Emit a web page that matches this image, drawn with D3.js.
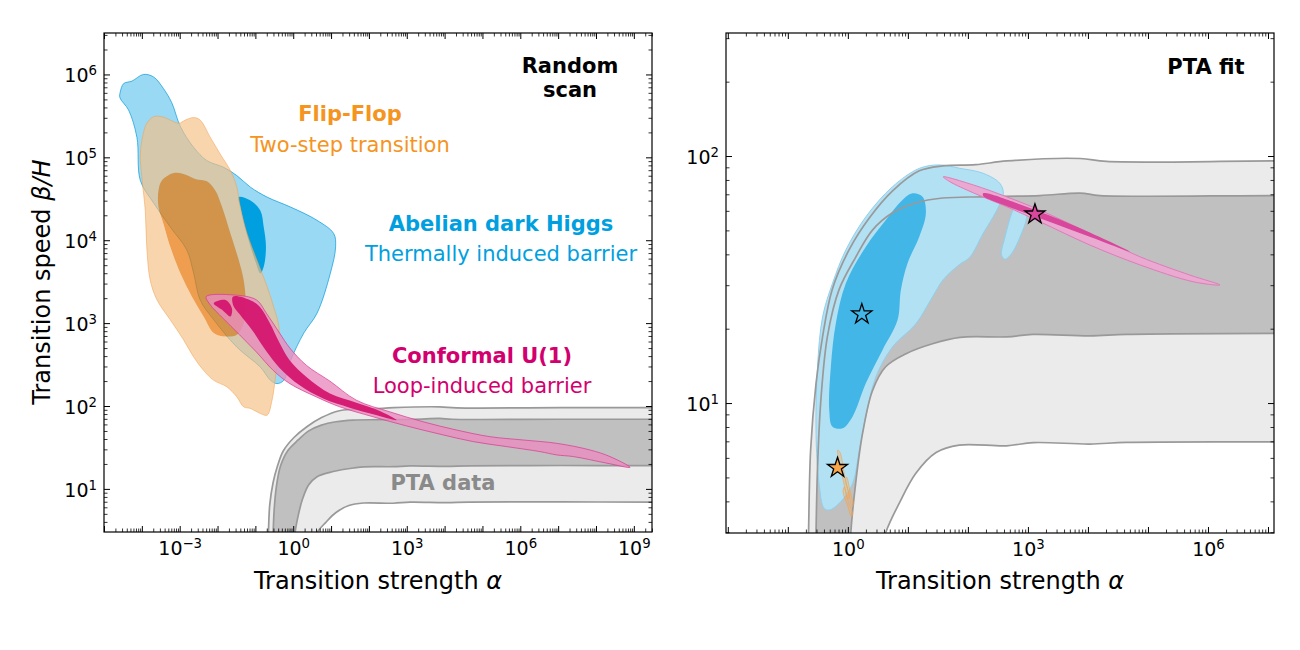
<!DOCTYPE html>
<html>
<head>
<meta charset="utf-8">
<script src="https://cdn.jsdelivr.net/npm/d3@7"></script>
<style>
  body { margin: 0; background: #fff; }
  svg { font-family: "DejaVu Sans", sans-serif; }
</style>
</head>
<body>
<svg id="chart" width="1300" height="650"></svg>
<script>
// all contour points are [log10(alpha), log10(beta/H)]

// random scan (left panel)
const abelianScan95 = [[-4.57,5.79],[-4.48,5.89],[-4.26,5.92],[-3.96,6.00],[-3.69,5.97],[-3.43,5.83],[-3.21,5.66],[-2.98,5.37],[-2.63,5.12],[-2.28,4.96],[-1.84,4.88],[-1.49,4.78],[-1.13,4.64],[-0.69,4.52],[-0.07,4.40],[0.63,4.24],[1.07,4.08],[1.12,3.92],[0.98,3.60],[0.63,3.12],[0.28,2.88],[-0.07,2.55],[-0.25,2.31],[-0.43,2.27],[-0.60,2.31],[-0.87,2.47],[-1.49,2.71],[-2.10,3.04],[-2.46,3.28],[-2.63,3.60],[-2.81,3.88],[-3.25,4.16],[-3.69,4.45],[-4.04,4.72],[-4.13,5.24],[-4.35,5.57],[-4.58,5.72]];
const abelianScan68 = [[-1.44,4.52],[-1.13,4.48],[-0.87,4.36],[-0.78,4.16],[-0.72,3.92],[-0.78,3.68],[-0.87,3.60],[-0.99,3.73],[-1.23,4.08],[-1.40,4.41]];
const flipFlopScan95 = [[-3.87,5.41],[-3.69,5.49],[-3.47,5.49],[-3.25,5.45],[-3.03,5.41],[-2.85,5.45],[-2.63,5.48],[-2.46,5.45],[-2.19,5.24],[-1.93,5.04],[-1.66,4.84],[-1.49,4.64],[-1.40,4.40],[-1.22,4.08],[-0.96,3.76],[-0.69,3.44],[-0.52,3.20],[-0.38,2.96],[-0.38,2.71],[-0.47,2.35],[-0.56,2.07],[-0.69,1.89],[-0.87,1.91],[-1.13,1.97],[-1.31,1.99],[-1.49,2.11],[-1.75,2.23],[-2.10,2.31],[-2.37,2.43],[-2.63,2.59],[-2.90,2.80],[-3.25,3.04],[-3.60,3.28],[-3.78,3.52],[-3.87,3.92],[-3.91,4.36],[-4.00,4.76],[-4.04,5.04],[-3.96,5.29]];
const flipFlopScan68 = [[-3.56,4.60],[-3.47,4.72],[-3.16,4.81],[-2.90,4.80],[-2.59,4.74],[-2.28,4.71],[-2.06,4.60],[-1.88,4.40],[-1.66,4.08],[-1.44,3.76],[-1.31,3.52],[-1.26,3.28],[-1.31,3.00],[-1.49,2.86],[-1.84,2.84],[-2.10,2.88],[-2.37,3.08],[-2.68,3.32],[-2.98,3.60],[-3.25,3.92],[-3.43,4.20],[-3.56,4.40]];
const conformalScan95 = [[-2.30,3.32],[-1.59,3.34],[-0.97,3.28],[-0.71,3.12],[-0.36,2.88],[-0.09,2.70],[0.35,2.49],[0.97,2.30],[1.67,2.07],[2.55,1.93],[3.43,1.81],[4.32,1.71],[5.20,1.63],[6.08,1.59],[6.96,1.55],[7.84,1.47],[8.37,1.39],[8.90,1.26],[8.29,1.31],[7.40,1.39],[6.96,1.41],[6.52,1.45],[5.64,1.51],[4.76,1.57],[3.88,1.66],[2.99,1.76],[2.11,1.87],[1.23,1.99],[0.61,2.11],[-0.09,2.27],[-0.53,2.43],[-0.97,2.65],[-1.42,2.86],[-1.86,3.06],[-2.21,3.23]];
const conformalScan68 = [[-1.59,3.32],[-1.15,3.28],[-0.89,3.20],[-0.62,3.00],[-0.36,2.76],[-0.09,2.55],[0.35,2.35],[0.97,2.15],[1.67,2.04],[2.29,1.94],[2.73,1.83],[2.11,1.90],[1.49,1.98],[0.79,2.09],[0.17,2.25],[-0.36,2.46],[-0.71,2.66],[-1.06,2.90],[-1.42,3.11],[-1.59,3.22]];
const conformalScanIsland = [[-2.10,3.24],[-1.79,3.28],[-1.62,3.18],[-1.66,3.08],[-1.88,3.16]];

// PTA data contours (shared by both panels)
const ptaOuterTop = [[-0.67,0.30],[-0.655,0.475],[-0.62,0.81],[-0.53,1.08],[-0.42,1.27],[-0.26,1.46],[0.02,1.62],[0.36,1.75],[0.75,1.86],[1.19,1.94],[1.58,1.96],[2.13,1.965],[2.65,1.98],[3.87,1.99],[4.31,1.978],[7.08,1.98],[9.6,1.98]];
const ptaDarkTop = [[-0.54,0.30],[-0.53,0.475],[-0.505,0.74],[-0.45,1.01],[-0.34,1.27],[-0.145,1.46],[0.13,1.59],[0.41,1.70],[0.745,1.77],[1.13,1.81],[1.58,1.83],[2.25,1.835],[3.2,1.84],[3.87,1.85],[4.2,1.84],[7.08,1.84],[9.6,1.84]];
const ptaDarkBottom = [[0.03,0.30],[0.05,0.475],[0.13,0.675],[0.245,0.877],[0.41,1.05],[0.63,1.147],[0.97,1.20],[1.41,1.24],[1.87,1.266],[2.65,1.268],[3.08,1.278],[4.03,1.272],[4.65,1.278],[7.08,1.282],[9.6,1.28]];
const ptaLightBottom = [[0.45,0.30],[0.63,0.475],[0.855,0.594],[1.13,0.715],[1.47,0.80],[1.855,0.83],[2.645,0.827],[3.09,0.84],[4.03,0.834],[4.645,0.841],[7.08,0.843],[9.6,0.84]];

// PTA fit (right panel)
const abelianFit95 = [[-0.395,0.574],[-0.48,0.675],[-0.53,0.877],[-0.505,1.147],[-0.42,1.35],[-0.255,1.485],[-0.033,1.62],[0.30,1.754],[0.745,1.876],[1.19,1.95],[1.52,1.964],[1.87,1.95],[2.255,1.93],[2.53,1.89],[2.59,1.85],[2.48,1.78],[2.255,1.687],[2.03,1.59],[1.855,1.56],[1.59,1.50],[1.41,1.43],[1.13,1.32],[0.745,1.228],[0.467,1.106],[0.30,0.945],[0.19,0.81],[0.08,0.675],[-0.145,0.594],[-0.31,0.567]];
const abelianFitIsland = [[2.81,1.81],[2.95,1.795],[2.98,1.754],[2.87,1.673],[2.73,1.606],[2.62,1.582],[2.56,1.60],[2.62,1.673],[2.73,1.768]];
const abelianFit68 = [[1.078,1.849],[1.245,1.835],[1.30,1.768],[1.19,1.673],[0.995,1.566],[0.883,1.457],[0.828,1.336],[0.578,1.215],[0.30,1.08],[0.078,0.945],[-0.088,0.898],[-0.255,0.904],[-0.31,0.972],[-0.283,1.147],[-0.20,1.323],[-0.033,1.485],[0.30,1.633],[0.633,1.741],[0.91,1.822]];
const conformalFit95 = [[1.59,1.916],[2.09,1.883],[2.645,1.835],[3.2,1.781],[4.03,1.687],[4.87,1.592],[5.70,1.518],[6.2,1.478],[5.755,1.491],[4.87,1.559],[4.03,1.64],[3.2,1.734],[2.645,1.795],[2.09,1.851],[1.70,1.896]];
const conformalFit68 = [[2.255,1.849],[2.92,1.80],[3.755,1.72],[4.70,1.613],[4.03,1.673],[3.2,1.748],[2.53,1.808],[2.255,1.838]];
const flipFlopFitA = [[-0.17,0.81],[-0.13,0.80],[-0.05,0.70],[0.02,0.62],[0.0,0.61],[-0.08,0.69],[-0.15,0.77]];
const flipFlopFitB = [[-0.06,0.66],[0.01,0.60],[0.08,0.55],[0.06,0.54],[-0.01,0.59],[-0.08,0.64]];
const flipFlopFitC = [[-0.02,0.70],[0.04,0.64],[0.09,0.59],[0.07,0.58],[0.02,0.63],[-0.04,0.69]];

// best fit points (alpha, beta/H)
const bestFitModels = ['abelian', 'flipflop', 'conformal'];
const bestFitAlpha = [1.71, 0.673, 1309];
const bestFitBeta = [22.9, 5.47, 58.1];

// axis ticks (decade exponents)
const leftXDecades = [-5,-4,-3,-2,-1,0,1,2,3,4,5,6,7,8,9];
const leftXLabels = [-3,0,3,6,9];
const leftYDecades = [1,2,3,4,5,6];
const rightXDecades = [-2,-1,0,1,2,3,4,5,6,7];
const rightXLabels = [0,3,6];
const rightYDecades = [1,2];

const svg = d3.select('#chart');
const closedLine = d3.line().curve(d3.curveCatmullRomClosed.alpha(0.5));
const openLine = d3.line().curve(d3.curveCatmullRom.alpha(0.5));

function makePanel(id, box, xDomain, yDomain) {
	const x = d3.scaleLog().domain(xDomain).range([box.l, box.r]);
	const y = d3.scaleLog().domain(yDomain).range([box.b, box.t]);
	svg.append('clipPath').attr('id', 'clip-' + id)
		.append('rect')
		.attr('x', box.l).attr('y', box.t)
		.attr('width', box.r - box.l).attr('height', box.b - box.t);
	const g = svg.append('g').attr('class', 'panel-' + id);
	const plot = g.append('g').attr('clip-path', `url(#clip-${id})`);
	const pt = p => [x(Math.pow(10, p[0])), y(Math.pow(10, p[1]))];
	return { x, y, g, plot, pt, box };
}

function blob(P, data, fill, opacity, stroke, sw) {
	return P.plot.append('path')
		.attr('d', closedLine(data.map(P.pt)))
		.attr('fill', fill)
		.attr('fill-opacity', opacity)
		.attr('stroke', stroke || 'none')
		.attr('stroke-width', sw || 1);
}

// outer contour with the inner one cut out (like contourf levels)
function ring(P, outer, inner, fill, opacity) {
	return P.plot.append('path')
		.attr('d', closedLine(outer.map(P.pt)) + closedLine(inner.map(P.pt)))
		.attr('fill-rule', 'evenodd')
		.attr('fill', fill)
		.attr('fill-opacity', opacity);
}

function band(P, top, bottom, fill) {
	const d = openLine(top.map(P.pt)) + openLine(bottom.slice().reverse().map(P.pt)).replace(/^M/, 'L') + 'Z';
	P.plot.append('path').attr('d', d).attr('fill', fill);
}

function ptaBands(P) {
	band(P, ptaOuterTop, ptaLightBottom, '#ebebeb');
	band(P, ptaDarkTop, ptaDarkBottom, '#c0c0c0');
}

function ptaLines(P) {
	[ptaOuterTop, ptaDarkTop, ptaDarkBottom, ptaLightBottom].forEach(c => {
		P.plot.append('path')
			.attr('d', openLine(c.map(P.pt)))
			.attr('fill', 'none')
			.attr('stroke', '#999')
			.attr('stroke-width', 1.7);
	});
}

function supLabel(sel, e) {
	sel.text('10');
	sel.append('tspan')
		.attr('dy', -7)
		.attr('font-size', '13.3px')
		.text(e < 0 ? '\u2212' + (-e) : String(e));
}

function drawAxes(P, xDec, xLab, yDec, yLab) {
	const { x, y, g, box } = P;
	const minors = (dec, dom) => {
		const out = [];
		for (let k = dec[0] - 1; k <= dec[dec.length - 1]; k++) {
			for (let m = 2; m < 10; m++) {
				const v = m * Math.pow(10, k);
				if (v > dom[0] * 1.001 && v < dom[1] / 1.001) out.push(v);
			}
		}
		return out;
	};
	const xMaj = xDec.map(k => Math.pow(10, k)), yMaj = yDec.map(k => Math.pow(10, k));
	const xMin = minors(xDec, x.domain()), yMin = minors(yDec, y.domain());
	const make = { bottom: d3.axisBottom, top: d3.axisTop, left: d3.axisLeft, right: d3.axisRight };
	const sides = [
		['bottom', x, `translate(0,${box.b})`, xMaj, xMin, xLab],
		['top', x, `translate(0,${box.t})`, xMaj, xMin, null],
		['left', y, `translate(${box.l},0)`, yMaj, yMin, yLab],
		['right', y, `translate(${box.r},0)`, yMaj, yMin, null]
	];
	sides.forEach(([side, scale, tr, maj, min, labels]) => {
		const minorAxis = make[side](scale).tickValues(min).tickSize(-3.5).tickSizeOuter(0).tickFormat('');
		const gm = g.append('g').attr('transform', tr).call(minorAxis);
		gm.select('.domain').remove();
		gm.selectAll('line').attr('stroke', '#000').attr('stroke-width', 0.8);

		const majorAxis = make[side](scale).tickValues(maj).tickSize(-6).tickSizeOuter(0).tickPadding(7);
		const ga = g.append('g').attr('transform', tr).call(majorAxis)
			.attr('font-family', null).attr('font-size', null);
		ga.select('.domain').remove();
		ga.selectAll('line').attr('stroke', '#000').attr('stroke-width', 1);
		ga.selectAll('text').each(function(d) {
			const t = d3.select(this);
			const e = Math.round(Math.log10(d));
			if (!labels || labels.indexOf(e) < 0) { t.remove(); return; }
			t.attr('font-size', '19px').attr('fill', '#000');
			if (side === 'bottom') t.attr('dy', null).attr('y', 23);
			if (side === 'left') t.attr('dy', null).attr('y', 7.5).attr('x', -7);
			supLabel(t, e);
		});
	});
	g.append('rect')
		.attr('x', box.l).attr('y', box.t)
		.attr('width', box.r - box.l).attr('height', box.b - box.t)
		.attr('fill', 'none').attr('stroke', '#000').attr('stroke-width', 1.2);
}

function label(P, txt, x, y, color, bold) {
	P.g.append('text')
		.attr('x', x).attr('y', y)
		.attr('text-anchor', 'middle')
		.attr('font-size', '21px')
		.attr('font-weight', bold ? 'bold' : 'normal')
		.attr('fill', color)
		.text(txt);
}

function xTitle(P) {
	const t = P.g.append('text')
		.attr('x', (P.box.l + P.box.r) / 2).attr('y', 589)
		.attr('text-anchor', 'middle').attr('font-size', '24px')
		.text('Transition strength ');
	t.append('tspan').attr('font-style', 'italic').text('\u03b1');
}

// ---------------- left: random scan ----------------
const L = makePanel('scan', { l: 104, r: 652, t: 33, b: 532 }, [1e-5, Math.pow(10, 9.48)], [Math.pow(10, 0.48), Math.pow(10, 6.5)]);

ptaBands(L);
ptaLines(L);

blob(L, abelianScan95, '#00a0e0', 0.4, 'rgba(0,150,215,0.75)', 0.9);
blob(L, abelianScan68, '#009fe0', 1);
ring(L, flipFlopScan95, flipFlopScan68, 'rgb(246,191,132)', 0.66);
blob(L, flipFlopScan68, 'rgb(232,120,10)', 0.72);
blob(L, flipFlopScan95, 'none', 0, 'rgba(242,160,80,0.6)', 0.9);
blob(L, conformalScan95, 'rgb(233,140,190)', 0.8, 'rgba(214,50,140,0.75)', 0.9);
blob(L, conformalScan68, '#d4166f', 0.95);
blob(L, conformalScanIsland, '#d4166f', 0.95);

drawAxes(L, leftXDecades, leftXLabels, leftYDecades, leftYDecades);
xTitle(L);

const yt = L.g.append('text')
	.attr('transform', 'translate(50,282) rotate(-90)')
	.attr('text-anchor', 'middle').attr('font-size', '24px')
	.text('Transition speed ');
yt.append('tspan').attr('font-style', 'italic').text('\u03b2/H');

label(L, 'Random', 570, 73, '#000', true);
label(L, 'scan', 570, 97, '#000', true);
label(L, 'Flip-Flop', 350, 121, '#f5941e', true);
label(L, 'Two-step transition', 350, 152, '#f5941e', false);
label(L, 'Abelian dark Higgs', 501, 231, '#00a0e0', true);
label(L, 'Thermally induced barrier', 501, 261, '#00a0e0', false);
label(L, 'Conformal U(1)', 482, 363, '#d2006e', true);
label(L, 'Loop-induced barrier', 482, 393, '#d2006e', false);
label(L, 'PTA data', 443, 490, '#8a8a8a', true);

// ---------------- right: PTA fit ----------------
const R = makePanel('fit', { l: 726, r: 1274, t: 33, b: 533 }, [Math.pow(10, -2.03), Math.pow(10, 7.1)], [Math.pow(10, 0.474), Math.pow(10, 2.498)]);

ptaBands(R);
blob(R, abelianFit95, '#b3e1f4', 1, '#8fd0ef', 1);
blob(R, abelianFitIsland, '#b3e1f4', 1, '#8fd0ef', 1);
blob(R, abelianFit68, '#42b6e6', 1);
ptaLines(R);
[flipFlopFitA, flipFlopFitB, flipFlopFitC].forEach(c =>
	blob(R, c, 'rgb(247,166,80)', 0.3, 'rgba(245,165,80,0.85)', 0.8));
blob(R, conformalFit95, '#e9a9d1', 1, '#de7cb9', 1);
blob(R, conformalFit68, '#d8479c', 1);

const starColors = { abelian: '#42b6e6', flipflop: '#f7a64a', conformal: '#d8479c' };
R.plot.selectAll('path.star')
	.data(bestFitModels)
	.enter()
	.append('path')
	.attr('class', 'star')
	.attr('d', d3.symbol().type(d3.symbolStar).size(125))
	.attr('transform', (d, i) => `translate(${R.x(bestFitAlpha[i])},${R.y(bestFitBeta[i])})`)
	.attr('fill', d => starColors[d])
	.attr('stroke', '#000')
	.attr('stroke-width', 1.3);

drawAxes(R, rightXDecades, rightXLabels, rightYDecades, rightYDecades);
xTitle(R);
label(R, 'PTA fit', 1206, 74, '#000', true);
</script>
</body>
</html>
